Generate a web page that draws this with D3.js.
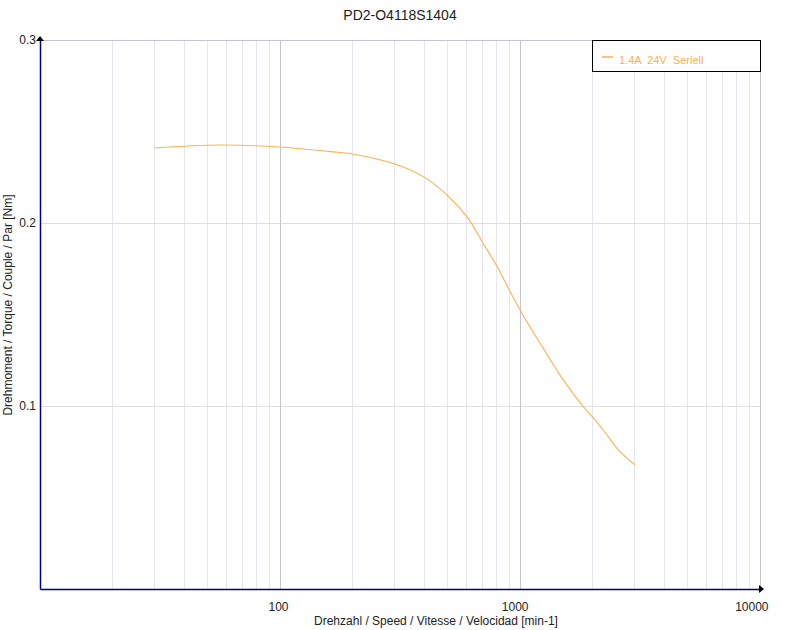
<!DOCTYPE html>
<html><head><meta charset="utf-8">
<script src="https://cdn.jsdelivr.net/npm/d3@7"></script>
<style>body{margin:0;background:#fff}svg{display:block;font-family:"Liberation Sans",Arial,sans-serif}</style>
</head><body>
<script>
const title = "PD2-O4118S1404";
const seriesName = "1.4A  24V  Seriell";
const speed = [30, 56, 100, 162, 200, 301, 402, 501, 607, 703, 804, 902, 1000, 1334, 1468, 1837, 2000, 2222, 2569, 3013];
const torque = [0.241, 0.2426, 0.2415, 0.239, 0.2377, 0.2322, 0.2248, 0.2148, 0.2027, 0.1888, 0.1761, 0.1634, 0.1525, 0.1255, 0.1169, 0.0996, 0.0942, 0.0869, 0.0760, 0.0678];
const xTicks = [100, 1000, 10000];
const yTicks = [0.1, 0.2, 0.3];
const xLabel = "Drehzahl / Speed / Vitesse / Velocidad [min-1]";
const yLabel = "Drehmoment / Torque / Couple / Par [Nm]";

const W = 800, H = 630, L = 40, R = 760, T = 40, B = 589;
const svg = d3.select("body").append("svg").attr("width", W).attr("height", H);
const x = d3.scaleLog().domain([10, 10000]).range([L, R]);
const y = d3.scaleLinear().domain([0, 0.3]).range([B, T]);

// minor vertical grid
const minor = [];
for (let d = 10; d < 10000; d *= 10) for (let k = 2; k <= 9; k++) minor.push(d * k);
svg.append("g").selectAll("line").data(minor).join("line")
  .attr("x1", d => x(d)).attr("x2", d => x(d)).attr("y1", T).attr("y2", B)
  .attr("stroke", "#e3e7f1").attr("stroke-width", 1).attr("shape-rendering", "crispEdges");
// horizontal grid
svg.append("g").selectAll("line").data(yTicks).join("line")
  .attr("x1", L).attr("x2", R).attr("y1", d => y(d)).attr("y2", d => y(d))
  .attr("stroke", d => d === 0.3 ? "#c4c4d0" : "#dedede").attr("stroke-width", 1).attr("shape-rendering", "crispEdges");
// major vertical grid
svg.append("g").selectAll("line").data(xTicks).join("line")
  .attr("x1", d => x(d)).attr("x2", d => x(d)).attr("y1", T).attr("y2", B)
  .attr("stroke", "#c4c4d0").attr("stroke-width", 1).attr("shape-rendering", "crispEdges");

// axes
const xAxis = d3.axisBottom(x).tickValues(xTicks).tickSize(0).tickFormat(d3.format("d"));
const gx = svg.append("g").attr("transform", `translate(0,${B})`).call(xAxis);
gx.select(".domain").attr("stroke", "#000080").attr("stroke-width", 1.5);
gx.selectAll("text").attr("font-size", 12).attr("fill", "#222").attr("text-anchor", "end").attr("dx", 8).attr("dy", 19)
  .attr("font-family", "Liberation Sans, Arial, sans-serif");
const yAxis = d3.axisLeft(y).tickValues(yTicks).tickSize(0).tickFormat(d3.format(".1f"));
const gy = svg.append("g").attr("transform", `translate(${L},0)`).call(yAxis);
gy.select(".domain").attr("stroke", "#000080").attr("stroke-width", 1.5);
gy.selectAll("text").attr("font-size", 12).attr("fill", "#222").attr("dx", -1)
  .attr("font-family", "Liberation Sans, Arial, sans-serif");

// arrows
svg.append("path").attr("d", `M${L - 4},${T + 1}L${L},${T - 4}L${L + 4},${T + 1}Z`).attr("fill", "#000");
svg.append("path").attr("d", `M${R - 1},${B - 4}L${R + 4},${B}L${R - 1},${B + 4}Z`).attr("fill", "#000");

// curve
const pts = speed.map((s, i) => [s, torque[i]]);
svg.append("path").datum(pts)
  .attr("d", d3.line().x(d => x(d[0])).y(d => y(d[1])).curve(d3.curveCatmullRom.alpha(0.5)))
  .attr("fill", "none").attr("stroke", "#ffb050").attr("stroke-width", 1.1);

// title & labels
svg.append("text").attr("x", 400).attr("y", 20).attr("text-anchor", "middle").attr("font-size", 14).attr("fill", "#222").text(title);
svg.append("text").attr("x", 436).attr("y", 625).attr("text-anchor", "middle").attr("font-size", 12).attr("fill", "#222").text(xLabel);
svg.append("text").attr("transform", "translate(12,305) rotate(-90)").attr("text-anchor", "middle").attr("font-size", 12).attr("fill", "#222").text(yLabel);

// legend
svg.append("rect").attr("x", 592.5).attr("y", 40.5).attr("width", 168).attr("height", 31).attr("fill", "#fff").attr("stroke", "#000");
svg.append("line").attr("x1", 602).attr("x2", 613).attr("y1", 57).attr("y2", 57).attr("stroke", "#ffb050").attr("stroke-width", 1.5);
svg.append("text").attr("x", 619).attr("y", 64).attr("font-size", 11).attr("fill", "#ffb050").attr("xml:space", "preserve").text(seriesName);
</script>
</body></html>
